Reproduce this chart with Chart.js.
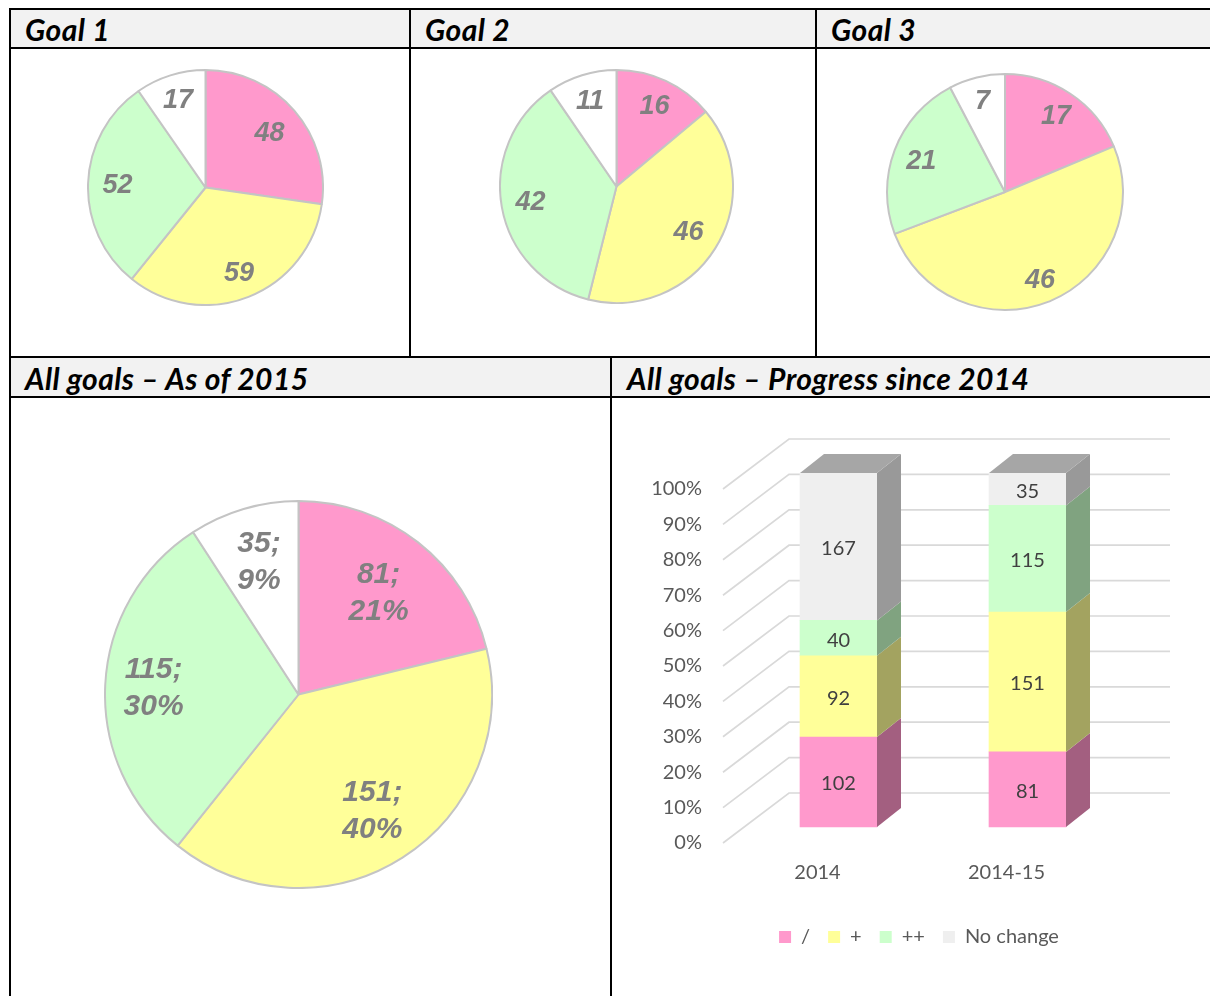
<!DOCTYPE html>
<html><head><meta charset="utf-8">
<script src="https://cdn.jsdelivr.net/npm/chart.js@4.4.1/dist/chart.umd.min.js"></script>
<style>
html,body{margin:0;padding:0;background:#fff;}
body{width:1210px;height:996px;position:relative;overflow:hidden;}
.hdr{position:absolute;background:#f2f2f2;}
.ln{position:absolute;background:#000;}
.ttl{position:absolute;font-family:Lato,"Liberation Sans",sans-serif;font-weight:bold;font-style:italic;font-size:30px;letter-spacing:0.4px;color:#000;line-height:30px;white-space:nowrap;}
canvas{position:absolute;}
</style></head><body>
<div class="hdr" style="left:10px;top:9px;width:1200px;height:39px"></div>
<div class="hdr" style="left:10px;top:357px;width:1200px;height:40px"></div>

<div class="ln" style="left:9px;top:8px;width:1201px;height:2px"></div>
<div class="ln" style="left:9px;top:47px;width:1201px;height:2px"></div>
<div class="ln" style="left:9px;top:356px;width:1201px;height:2px"></div>
<div class="ln" style="left:9px;top:396px;width:1201px;height:2px"></div>
<div class="ln" style="left:9px;top:8px;width:2px;height:988px"></div>
<div class="ln" style="left:409px;top:8px;width:2px;height:350px"></div>
<div class="ln" style="left:815px;top:8px;width:2px;height:350px"></div>
<div class="ln" style="left:610px;top:356px;width:2px;height:640px"></div>

<div class="ttl" style="left:25px;top:14px">Goal 1</div>
<div class="ttl" style="left:425px;top:14px">Goal 2</div>
<div class="ttl" style="left:831px;top:14px">Goal 3</div>
<div class="ttl" style="left:25px;top:363px">All goals – As of 2015</div>
<div class="ttl" style="left:627px;top:363px">All goals – Progress since 2014</div>

<canvas id="g1" width="237" height="237" style="left:87px;top:69px"></canvas>
<canvas id="g2" width="235" height="235" style="left:499px;top:69px"></canvas>
<canvas id="g3" width="238" height="238" style="left:886px;top:73px"></canvas>
<canvas id="gAll" width="389" height="389" style="left:104px;top:500px"></canvas>
<canvas id="bar" width="598" height="597" style="left:612px;top:399px"></canvas>

<script>
// ---------- DATA ----------
const categories = ['/', '+', '++', 'No change'];
const goal1 = [48, 59, 52, 17];
const goal2 = [16, 46, 42, 11];
const goal3 = [17, 46, 21, 7];
const allGoals2015 = [81, 151, 115, 35];

const barCategories = ['2014', '2014-15'];
const seriesSlash = [102, 81];
const seriesPlus = [92, 151];
const seriesPlusPlus = [40, 115];
const seriesNoChange = [167, 35];
const yTickValues = [0, 10, 20, 30, 40, 50, 60, 70, 80, 90, 100];

// ---------- STYLE ----------
const sliceColors = ['#ff99cc', '#ffff99', '#ccffcc', '#ffffff'];
const barColors = ['#ff99cc', '#ffff99', '#ccffcc', '#efefef'];
const sideColors = ['#a35f80', '#a3a360', '#80a380', '#999999'];
const topColor = '#a6a6a6';

Chart.defaults.animation = false;
Chart.defaults.events = [];

const pieLabels = {
  id: 'pieLabels',
  afterDatasetsDraw(chart, args, opts) {
    const ctx = chart.ctx;
    const meta = chart.getDatasetMeta(0);
    const data = chart.data.datasets[0].data;
    const total = data.reduce((a, b) => a + b, 0);
    ctx.save();
    ctx.font = 'italic bold ' + opts.size + 'px "Liberation Sans", Arial, sans-serif';
    ctx.fillStyle = '#808080';
    ctx.textAlign = 'center';
    ctx.textBaseline = 'middle';
    meta.data.forEach((arc, i) => {
      const p = arc.getProps(['x', 'y', 'startAngle', 'endAngle', 'outerRadius'], true);
      const mid = (p.startAngle + p.endAngle) / 2;
      const rr = p.outerRadius * opts.fracs[i];
      const cx = p.x + Math.cos(mid) * rr, cy = p.y + Math.sin(mid) * rr + 1;
      if (opts.percent) {
        ctx.fillText(data[i] + ';', cx, cy - opts.gap / 2);
        ctx.fillText(Math.round(data[i] / total * 100) + '%', cx, cy + opts.gap / 2);
      } else {
        ctx.fillText(String(data[i]), cx, cy);
      }
    });
    ctx.restore();
  }
};

function makePie(id, values, labelOpts) {
  return new Chart(document.getElementById(id), {
    type: 'pie',
    data: {
      labels: categories,
      datasets: [{
        data: values,
        backgroundColor: sliceColors,
        borderColor: '#c4c4c4',
        borderWidth: 2
      }]
    },
    options: {
      responsive: false,
      layout: { padding: 0 },
      plugins: {
        legend: { display: false },
        tooltip: { enabled: false },
        pieLabels: labelOpts
      }
    },
    plugins: [pieLabels]
  });
}

makePie('g1', goal1, { size: 27, fracs: [0.72, 0.78, 0.75, 0.78], percent: false });
makePie('g2', goal2, { size: 27, fracs: [0.77, 0.73, 0.75, 0.77], percent: false });
makePie('g3', goal3, { size: 27, fracs: [0.78, 0.80, 0.76, 0.80], percent: false });
makePie('gAll', allGoals2015, { size: 30, fracs: [0.67, 0.71, 0.75, 0.72], percent: true, gap: 37 });

// ---------- 3D STACKED 100% BAR ----------
const barSeries = [seriesSlash, seriesPlus, seriesPlusPlus, seriesNoChange];
const totals = barCategories.map((_, j) => barSeries.reduce((s, arr) => s + arr[j], 0));

const bar3d = {
  id: 'bar3d',
  afterLayout(chart, args, o) {
    if (chart.legend) { chart.legend.left += o.legendShift; chart.legend.right += o.legendShift; }
  },
  beforeDatasetsDraw(chart, args, o) {
    const { ctx, chartArea, scales: { y } } = chart;
    ctx.save();
    ctx.strokeStyle = '#d9d9d9';
    ctx.lineWidth = 1.7;
    yTickValues.forEach(v => {
      const py = y.getPixelForValue(v);
      ctx.beginPath();
      ctx.moveTo(chartArea.left, py);
      ctx.lineTo(chartArea.left + o.floorDx, py - o.floorDy);
      ctx.lineTo(chartArea.right + o.floorDx + 3, py - o.floorDy);
      ctx.stroke();
    });
    ctx.restore();
    ctx.save();
    ctx.translate(o.shiftDx, -o.shiftDy);
  },
  afterDatasetsDraw(chart, args, o) {
    const ctx = chart.ctx;
    const n = chart.data.datasets.length;
    for (let d = 0; d < n; d++) {
      const meta = chart.getDatasetMeta(d);
      meta.data.forEach(el => {
        const p = el.getProps(['x', 'y', 'base', 'width'], true);
        const left = p.x - p.width / 2, right = p.x + p.width / 2;
        ctx.fillStyle = sideColors[d];
        ctx.beginPath();
        ctx.moveTo(right, p.y);
        ctx.lineTo(right + o.depthDx, p.y - o.depthDy);
        ctx.lineTo(right + o.depthDx, p.base - o.depthDy);
        ctx.lineTo(right, p.base);
        ctx.closePath();
        ctx.fill();
        if (d === n - 1) {
          ctx.fillStyle = topColor;
          ctx.beginPath();
          ctx.moveTo(left, p.y);
          ctx.lineTo(left + o.depthDx, p.y - o.depthDy);
          ctx.lineTo(right + o.depthDx, p.y - o.depthDy);
          ctx.lineTo(right, p.y);
          ctx.closePath();
          ctx.fill();
        }
      });
    }
    ctx.font = '20px Lato, "Liberation Sans", sans-serif';
    ctx.fillStyle = '#404040';
    ctx.textAlign = 'center';
    ctx.textBaseline = 'middle';
    for (let d = 0; d < n; d++) {
      const meta = chart.getDatasetMeta(d);
      meta.data.forEach((el, j) => {
        const p = el.getProps(['x', 'y', 'base'], true);
        ctx.fillText(String(barSeries[d][j]), p.x, (p.y + p.base) / 2 + 2);
      });
    }
    ctx.restore();
  }
};

new Chart(document.getElementById('bar'), {
  type: 'bar',
  data: {
    labels: barCategories,
    datasets: categories.map((name, d) => ({
      label: name,
      data: barSeries[d].map((v, j) => v / totals[j] * 100),
      backgroundColor: barColors[d],
      borderWidth: 0,
      barThickness: 77,
      clip: false
    }))
  },
  options: {
    responsive: false,
    layout: { padding: { top: 90, right: 109, bottom: 39, left: 0 } },
    scales: {
      x: {
        stacked: true,
        grid: { display: false, drawTicks: false },
        border: { display: false },
        ticks: { color: '#595959', font: { family: 'Lato', size: 20 }, padding: 18, maxRotation: 0 },
        afterFit(s) { s.height = 66; }
      },
      y: {
        stacked: true,
        min: 0, max: 100,
        grid: { display: false, drawTicks: false },
        border: { display: false },
        afterBuildTicks(s) { s.ticks = yTickValues.map(v => ({ value: v })); },
        ticks: { color: '#595959', font: { family: 'Lato', size: 20 }, padding: 21, callback: v => v + '%' },
        afterFit(s) { s.width = 111; }
      }
    },
    plugins: {
      tooltip: { enabled: false },
      legend: {
        position: 'bottom',
        fullSize: false,
        labels: {
          boxWidth: 12, boxHeight: 12, padding: 18,
          color: '#595959',
          font: { family: 'Lato', size: 20 }
        }
      },
      bar3d: { floorDx: 66, floorDy: 50, shiftDx: 21, shiftDy: 16, depthDx: 24, depthDy: 19, legendShift: 7 }
    }
  },
  plugins: [bar3d]
});
</script>
</body></html>
